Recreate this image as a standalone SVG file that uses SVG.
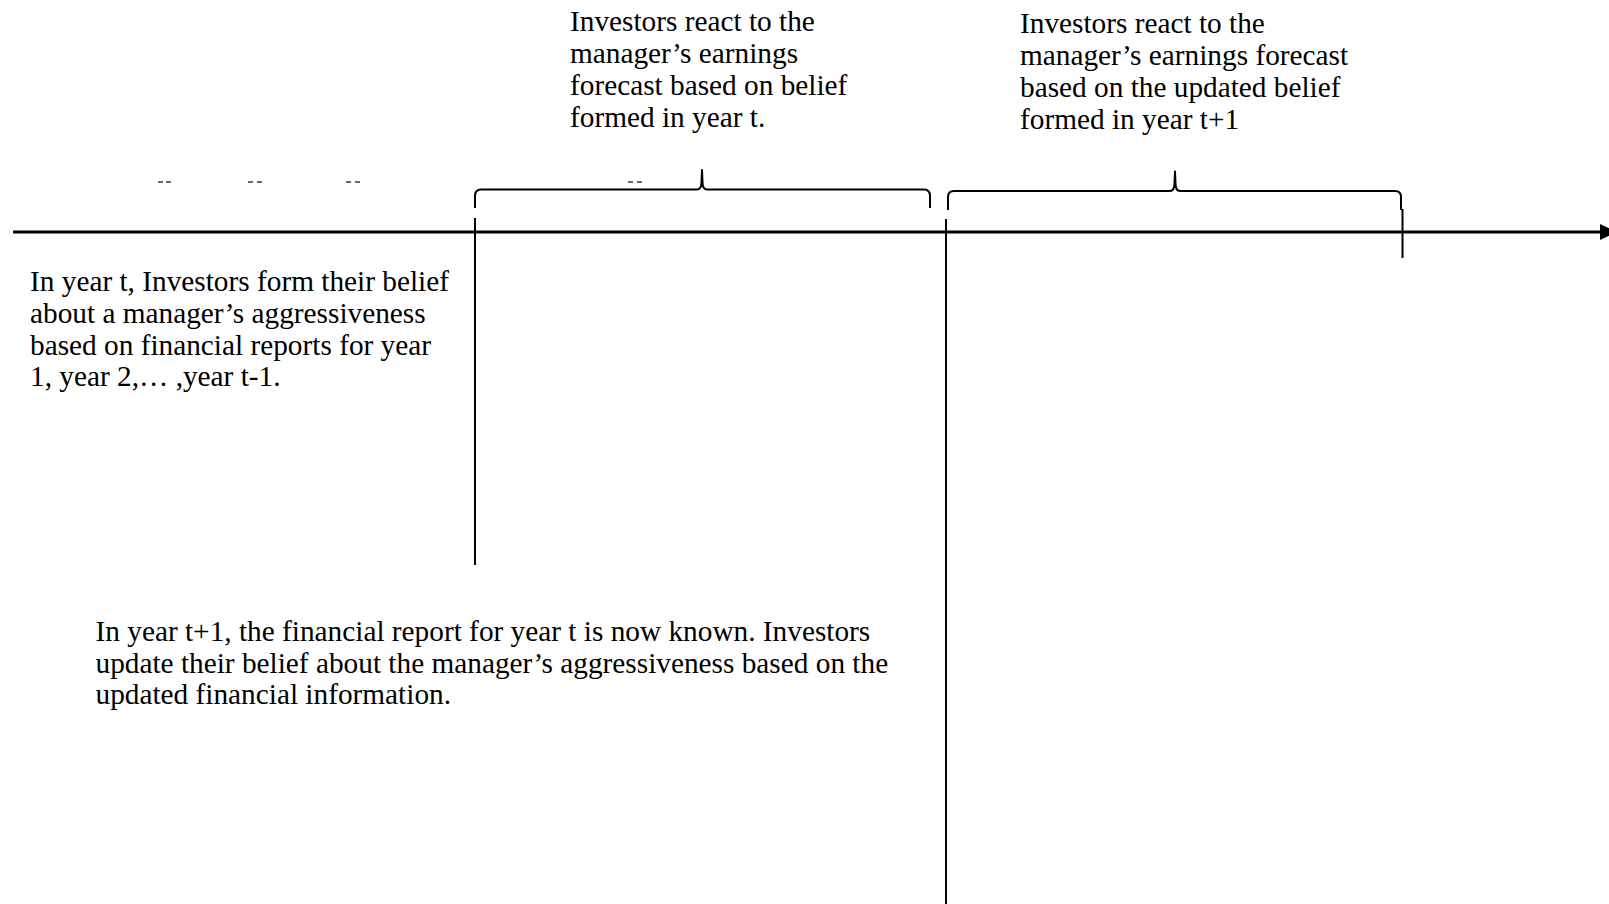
<svg xmlns="http://www.w3.org/2000/svg" width="1609" height="904" viewBox="0 0 1609 904">
<style>
  text { font-family: "Liberation Serif", "Times New Roman", serif; font-size: 29.3px; fill: #000; }
  .ln { stroke: #000; stroke-width: 2; fill: none; }
  .axis { stroke: #000; stroke-width: 3; fill: none; }
  .br { stroke: #000; stroke-width: 2; fill: none; stroke-linejoin: round; }
  .tk { stroke: #444; stroke-width: 1.6; }
</style>
<rect width="1609" height="904" fill="#fff"/>
<g id="connectors">
  <line class="axis" x1="13" y1="232" x2="1602" y2="232"/>
  <polygon points="1600,224 1617,232 1600,240" fill="#000"/>
  <line class="ln" x1="475" y1="218" x2="475" y2="565"/>
  <line class="ln" x1="946" y1="219" x2="946" y2="904"/>
  <line class="ln" x1="1402.5" y1="209" x2="1402.5" y2="258"/>
  <path class="br" d="M475,208 L475,196 Q475,189.5 481,189.5 L697,189.5 Q701.5,189.5 701.5,182 L702,170 L702.5,182 Q702.5,189.5 707,189.5 L924,189.5 Q930,189.5 930,196 L930,208"/>
  <path class="br" d="M948,210 L948,197 Q948,191 954,191 L1170,191 Q1174.5,191 1174.5,183 L1175,171.5 L1175.5,183 Q1175.5,191 1180,191 L1395,191 Q1401,191 1401,197 L1401,210"/>
  <g id="ticks">
    <line class="tk" x1="158" y1="182" x2="163" y2="182"/><line class="tk" x1="166" y1="182" x2="171" y2="182"/>
    <line class="tk" x1="248" y1="182" x2="253" y2="182"/><line class="tk" x1="257" y1="182" x2="262" y2="182"/>
    <line class="tk" x1="346" y1="182" x2="351" y2="182"/><line class="tk" x1="355" y1="182" x2="360" y2="182"/>
    <line class="tk" x1="628" y1="182" x2="633" y2="182"/><line class="tk" x1="637" y1="182" x2="642" y2="182"/>
  </g>
</g>
<g id="node-belief-t">
  <text x="30" y="290.5">In year t, Investors form their belief</text>
  <text x="30" y="322.5">about a manager’s aggressiveness</text>
  <text x="30" y="354.5">based on financial reports for year</text>
  <text x="30" y="385.5">1, year 2,… ,year t-1.</text>
</g>
<g id="node-react-t">
  <text x="570" y="31">Investors react to the</text>
  <text x="570" y="63">manager’s earnings</text>
  <text x="570" y="95">forecast based on belief</text>
  <text x="570" y="127">formed in year t.</text>
</g>
<g id="node-react-t1">
  <text x="1020" y="33">Investors react to the</text>
  <text x="1020" y="65">manager’s earnings forecast</text>
  <text x="1020" y="97">based on the updated belief</text>
  <text x="1020" y="129">formed in year t+1</text>
</g>
<g id="node-update-t1">
  <text x="95.5" y="640.5">In year t+1, the financial report for year t is now known. Investors</text>
  <text x="95.5" y="672.5">update their belief about the manager’s aggressiveness based on the</text>
  <text x="95.5" y="703.5">updated financial information.</text>
</g>
</svg>
